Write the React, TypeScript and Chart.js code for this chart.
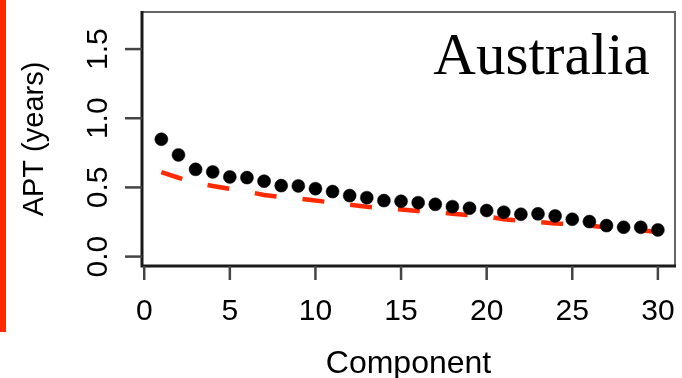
import React, { useEffect, useRef } from "react";
import { Chart, registerables } from "chart.js";

Chart.register(...registerables);

const components: number[] = [1, 2, 3, 4, 5, 6, 7, 8, 9, 10, 11, 12, 13, 14, 15, 16, 17, 18, 19, 20, 21, 22, 23, 24, 25, 26, 27, 28, 29, 30];
const aptObserved: number[] = [0.848, 0.735, 0.631, 0.612, 0.576, 0.571, 0.545, 0.513, 0.511, 0.491, 0.47, 0.441, 0.426, 0.405, 0.4, 0.39, 0.378, 0.361, 0.35, 0.333, 0.321, 0.306, 0.309, 0.294, 0.27, 0.253, 0.224, 0.212, 0.212, 0.193];
const aptFitted: number[] = [0.61, 0.57, 0.535, 0.51, 0.49, 0.47, 0.445, 0.43, 0.42, 0.405, 0.39, 0.375, 0.36, 0.35, 0.34, 0.33, 0.322, 0.31, 0.3, 0.29, 0.27, 0.26, 0.25, 0.24, 0.235, 0.225, 0.21, 0.203, 0.19, 0.178];
const xTicks: number[] = [0, 5, 10, 15, 20, 25, 30];
const yTicks: number[] = [0, 0.5, 1.0, 1.5];
const yTickLabels: string[] = ["0.0", "0.5", "1.0", "1.5"];
const xTitle = "Component";
const yTitle = "APT (years)";
const panelTitle = "Australia";

const SANS = "'Liberation Sans', Arial, sans-serif";
const SERIF = "'Liberation Serif', 'Times New Roman', serif";

const decorPlugin = {
  id: "decor",
  afterDraw(chart: any) {
    const ctx = chart.ctx as CanvasRenderingContext2D;
    const { left, right, top, bottom } = chart.chartArea;
    const xs = chart.scales.x;
    const ys = chart.scales.y;
    ctx.save();

    // red bar on the far left
    ctx.fillStyle = "#ff2a00";
    ctx.fillRect(0, 0, 6, 332);

    // box
    ctx.strokeStyle = "#666";
    ctx.lineWidth = 2;
    ctx.beginPath();
    ctx.moveTo(left, top);
    ctx.lineTo(right, top);
    ctx.lineTo(right, bottom);
    ctx.stroke();
    ctx.strokeStyle = "#1a1a1a";
    ctx.lineWidth = 3;
    ctx.beginPath();
    ctx.moveTo(left, top - 1);
    ctx.lineTo(left, bottom);
    ctx.lineTo(right + 1, bottom);
    ctx.stroke();

    // x ticks + labels
    ctx.strokeStyle = "#444";
    ctx.lineWidth = 2.5;
    ctx.fillStyle = "#000";
    ctx.font = `30px ${SANS}`;
    ctx.textAlign = "center";
    ctx.textBaseline = "alphabetic";
    for (const t of xTicks) {
      const px = xs.getPixelForValue(t);
      ctx.beginPath();
      ctx.moveTo(px, bottom);
      ctx.lineTo(px, bottom + 14);
      ctx.stroke();
      ctx.fillText(String(t), px, 319.5);
    }

    // y ticks + rotated labels
    yTicks.forEach((t, i) => {
      const py = ys.getPixelForValue(t);
      ctx.beginPath();
      ctx.moveTo(left, py);
      ctx.lineTo(left - 17, py);
      ctx.stroke();
      ctx.save();
      ctx.translate(106.5, py);
      ctx.rotate(-Math.PI / 2);
      ctx.fillText(yTickLabels[i], 0, 0);
      ctx.restore();
    });

    // axis titles
    ctx.font = `32px ${SANS}`;
    ctx.fillText(xTitle, (left + right) / 2, 372.5);
    ctx.save();
    ctx.translate(43, (top + bottom) / 2);
    ctx.rotate(-Math.PI / 2);
    ctx.font = `29px ${SANS}`;
    ctx.fillText(yTitle, 0, 0);
    ctx.restore();

    // panel title
    ctx.font = `59px ${SERIF}`;
    ctx.textAlign = "center";
    ctx.fillText(panelTitle, 541.5, 74);

    ctx.restore();
  },
};

export default function App() {
  const ref = useRef<HTMLCanvasElement | null>(null);
  useEffect(() => {
    if (!ref.current) return;
    const chart = new Chart(ref.current, {
      type: "line",
      data: {
        datasets: [
          {
            label: "fitted",
            data: components.map((c, i) => ({ x: c, y: aptFitted[i] })),
            borderColor: "#ff2a00",
            borderWidth: 4.5,
            borderDash: [22, 26],
            pointRadius: 0,
            fill: false,
            tension: 0,
            order: 2,
          },
          {
            label: "observed",
            data: components.map((c, i) => ({ x: c, y: aptObserved[i] })),
            showLine: false,
            pointRadius: 6.5,
            pointBackgroundColor: "#000",
            pointBorderColor: "#000",
            pointBorderWidth: 0.5,
            order: 1,
          },
        ],
      },
      options: {
        animation: false,
        responsive: false,
        devicePixelRatio: 1,
        layout: { padding: { top: 12, right: 2, left: 0, bottom: 0 } },
        plugins: { legend: { display: false }, tooltip: { enabled: false } },
        scales: {
          x: {
            type: "linear",
            min: -0.13,
            max: 31.0,
            grid: { display: false },
            border: { display: false },
            ticks: { display: false },
            afterFit: (s: any) => {
              s.height = 378 - 266;
            },
          },
          y: {
            type: "linear",
            min: -0.068,
            max: 1.768,
            grid: { display: false },
            border: { display: false },
            ticks: { display: false },
            afterFit: (s: any) => {
              s.width = 142;
            },
          },
        },
      },
      plugins: [decorPlugin],
    });
    return () => chart.destroy();
  }, []);
  return (
    <div style={{ position: "fixed", left: 0, top: 0, width: 682, height: 378, background: "#fff" }}>
      <canvas ref={ref} width={682} height={378} style={{ display: "block" }} />
    </div>
  );
}
